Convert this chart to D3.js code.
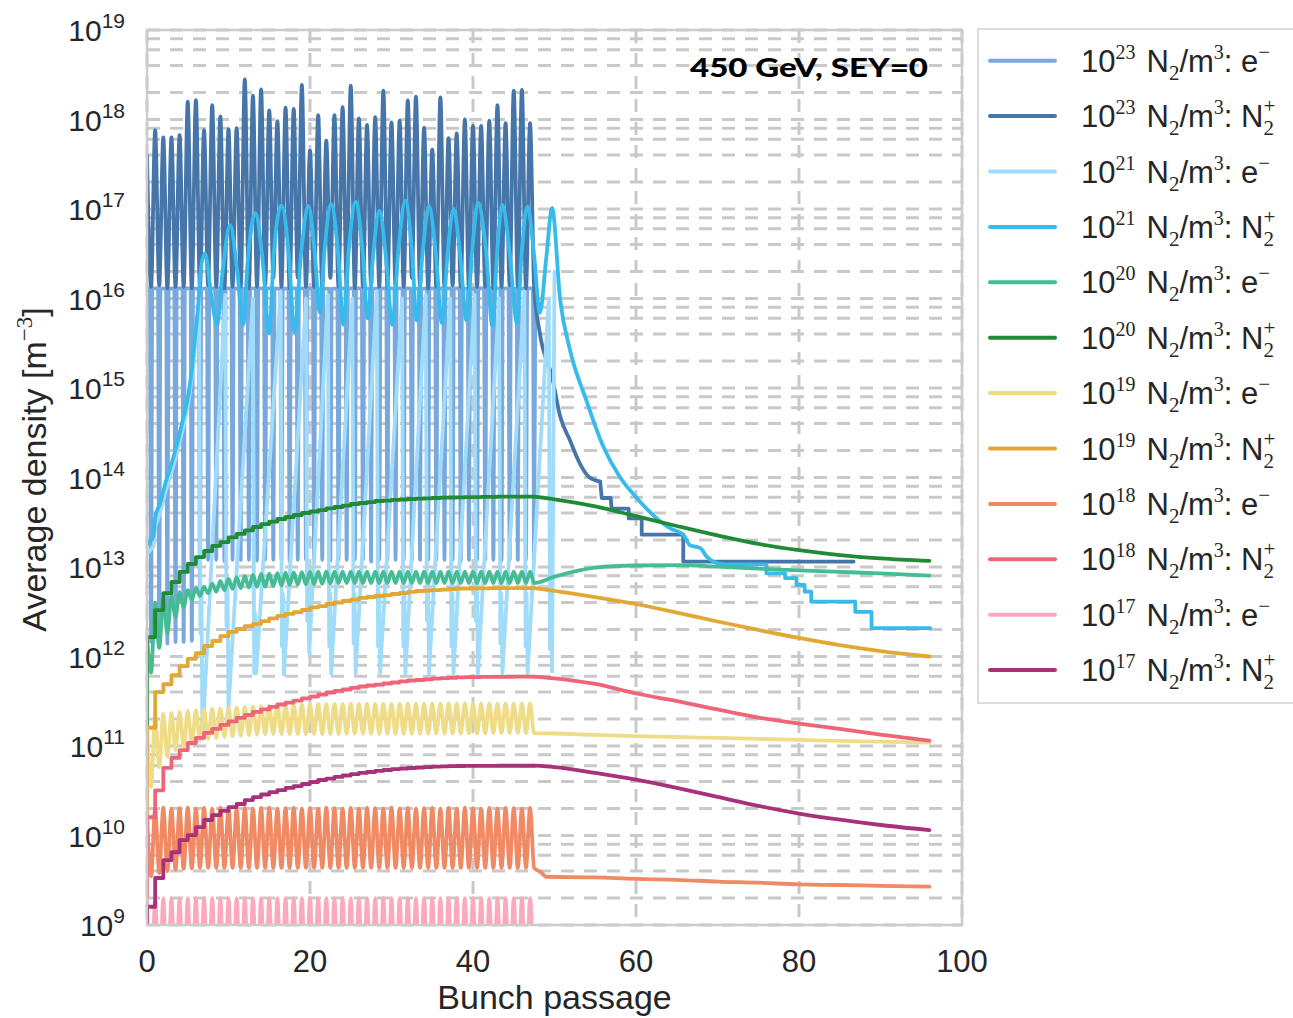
<!DOCTYPE html>
<html>
<head>
<meta charset="utf-8">
<script src="https://cdn.jsdelivr.net/npm/d3@7"></script>
<style>
  body { margin: 0; background: #ffffff; }
  svg { display: block; }
</style>
</head>
<body>
<svg id="chart" width="1293" height="1018"></svg>
<script>
// ---------------- data ----------------
// bunch passages of the train (one bunch per unit of x)
const bunchX = [0,1,2,3,4,5,6,7,8,9,10,11,12,13,14,15,16,17,18,19,20,21,22,23,
                24,25,26,27,28,29,30,31,32,33,34,35,36,37,38,39,40,41,42,43,44,45,46,47];
// sampling points of the decay after the train
const tailX = [47.5, 50, 55, 60, 65, 70, 75, 80, 85, 90, 96];

const xTicks = [0, 20, 40, 60, 80, 100];
const yMajor = [1e9, 1e10, 1e11, 1e12, 1e13, 1e14, 1e15, 1e16, 1e17, 1e18, 1e19];
const yMinorMult = [2, 4, 6, 8];

// 1e23 N2/m3 : e-  (plateau between bunches, dip at each passage)
const e23High = [1.3e16,1.3e16,1.28e16,1.3e16,1.3e16,1.3e16,1.28e16,1.3e16,1.3e16,1.3e16,1.3e16,1.28e16,
                 1.3e16,1.3e16,1.3e16,1.3e16,1.28e16,1.3e16,1.3e16,1.3e16,1.3e16,1.3e16,1.28e16,1.3e16,
                 1.3e16,1.3e16,1.3e16,1.28e16,1.3e16,1.3e16,1.3e16,1.3e16,1.3e16,1.28e16,1.3e16,1.3e16,
                 1.3e16,1.3e16,1.3e16,1.28e16,1.3e16,1.3e16,1.3e16,1.3e16,1.3e16,1.28e16,1.3e16,1.3e16];
const e23Low  = [1.46e12,1.46e12,1.4e12,1.45e12,1.46e12,1.5e12,5.0e12,1.2e13,1.2e13,1.15e13,1.2e13,1.2e13,
                 1.2e13,1.18e13,1.2e13,1.2e13,1.2e13,1.15e13,1.2e13,1.2e13,1.2e13,1.2e13,1.18e13,1.2e13,
                 1.2e13,1.2e13,1.2e13,1.15e13,1.2e13,1.2e13,1.2e13,1.2e13,1.18e13,1.2e13,1.2e13,1.2e13,
                 1.2e13,1.2e13,1.15e13,1.2e13,1.2e13,1.2e13,1.2e13,1.18e13,1.2e13,1.2e13,1.2e13,1.2e13];

// 1e23 N2/m3 : N2+
const n23Peak = [4.0e17,7.6e17,6.3e17,6.3e17,6.7e17,1.58e18,1.65e18,7.6e17,1.45e18,1.08e18,7.8e17,8.0e17,
                 2.8e18,1.85e18,2.17e18,1.26e18,9.6e17,1.36e18,1.31e18,2.43e18,4.5e17,1.12e18,5.8e17,1.12e18,
                 1.37e18,2.39e18,1.03e18,8.7e17,1.06e18,2.1e18,9.3e17,9.7e17,1.63e18,1.8e18,8.1e17,4.6e17,
                 1.77e18,6.2e17,7.0e17,1.0e18,8.5e17,8.5e17,9.7e17,1.45e18,9.1e17,2.1e18,2.14e18,9.1e17];
const n23Trough = [1.35e16,1.4e16,1.3e16,1.35e16,1.35e16,1.3e16,1.35e16,1.4e16,1.35e16,1.3e16,1.35e16,1.35e16,
                   1.3e16,1.35e16,1.4e16,1.7e16,1.35e16,1.3e16,1.7e16,1.35e16,1.35e16,1.3e16,1.7e16,1.35e16,
                   1.35e16,1.3e16,1.35e16,1.4e16,1.35e16,1.3e16,1.35e16,1.35e16,1.7e16,1.35e16,1.3e16,1.35e16,
                   1.35e16,1.4e16,1.35e16,1.3e16,1.35e16,1.35e16,1.3e16,1.35e16,1.4e16,1.35e16,1.3e16,1.35e16];
const n23Decay = [[48.2,4.1e15],[49.7,1.34e15],[50.7,4.8e14],[51.9,2.6e14],[53.1,1.44e14],[54.2,1.02e14],[55.6,9.0e13]];
const n23Steps = [[55.6,9.0e13],[55.8,5.9e13],[56.9,5.9e13],[57.0,4.5e13],[59.1,4.5e13],[59.1,3.5e13],
                  [60.7,3.5e13],[60.7,2.3e13],[65.8,2.3e13],[65.8,1.15e13],[86.7,1.15e13]];

// 1e21 N2/m3 : e-
const e21Rise = [[0,1.4e13],[0.8,1.7e13],[1.0,2.8e13],[1.6,4.0e13],[2.25,6.8e13],[2.9,1.05e14],
                 [3.7,1.9e14],[4.5,3.8e14],[5.1,7.0e14],[5.5,1.3e15],[5.9,3.0e15],[6.1,5.0e15]];
const e21DipX     = [6.8,10.0,13.4,16.8,19.9,22.6,25.6,28.6,31.7,34.6,37.6,40.6,43.6,46.7,49.7];
const e21Deep     = [1.2e11,2.7e11,6.5e11,6.3e11,1.1e12,6.4e11,6.5e11,6.5e11,6.4e11,6.5e11,6.5e11,6.3e11,6.5e11,6.5e11,6.8e11];
const e21Shallow  = [1.8e12,2.2e12,6.5e11,1.3e12,2.5e12,1.3e12,1.4e12,1.3e12,1.3e12,2.5e12,1.3e12,2.5e12,1.4e12,1.3e12,1.2e12];
const e21Rebound  = [6.0e12,7.0e12,3.0e12,5.0e12,8.0e12,5.0e12,5.0e12,5.0e12,5.0e12,8.0e12,5.0e12,8.0e12,5.0e12,5.0e12,5.0e12];
const e21Top      = [1.0e16,1.1e16,1.0e16,1.2e16,1.0e16,1.1e16,1.0e16,1.2e16,1.0e16,1.1e16,1.0e16,1.1e16,1.0e16,1.2e16,1.0e16];
const e21End      = [[50.0,2.0e16]];

// 1e21 N2/m3 : N2+
const n21Smooth = [[0,1.8e13],[0.8,2.2e13],[1.0,3.6e13],[1.6,5.1e13],[2.25,8.6e13],[2.9,1.32e14],[3.7,2.4e14],
  [4.5,4.8e14],[5.1,8.7e14],[5.5,1.6e15],[5.9,3.7e15],[6.3,8.8e15],[6.6,2.1e16],[7.1,3.2e16],[8.0,9.0e15],
  [8.6,5.1e15],[9.25,1.9e16],[10.2,6.6e16],[11.1,1.9e16],[11.8,5.1e15],[12.35,2.6e16],[13.3,9.0e16],[14.2,2.6e16],
  [15.0,4.1e15],[15.55,3.1e16],[16.5,1.1e17],[17.4,3.1e16],[18.1,4.2e15],[18.9,3.1e16],[19.8,1.08e17],[20.6,3.1e16],
  [21.2,7.0e15],[21.75,3.2e16],[22.6,1.13e17],[23.45,3.2e16],[24.1,5.1e15],[24.75,3.4e16],[25.6,1.2e17],[26.45,3.4e16],
  [27.1,6.0e15],[27.7,2.7e16],[28.5,9.6e16],[29.35,2.7e16],[30.1,5.1e15],[30.85,3.5e16],[31.7,1.24e17],[32.5,3.5e16],
  [33.1,5.7e15],[33.8,3.1e16],[34.6,1.08e17],[35.45,3.1e16],[36.2,5.3e15],[36.85,2.9e16],[37.6,1.0e17],[38.45,2.9e16],
  [39.2,5.7e15],[39.9,3.4e16],[40.6,1.18e17],[41.6,3.4e16],[42.4,4.9e15],[42.95,3.2e16],[43.6,1.11e17],[44.5,3.2e16],
  [45.4,5.3e15],[45.95,3.0e16],[46.7,1.06e17],[47.5,3.0e16],[48.2,6.9e15],[49.0,2.9e16],[49.7,1.03e17],[50.7,9.6e15],
  [51.9,2.66e15],[53.9,7.3e14],[56.0,2.2e14],[58.0,1.02e14],[60.1,5.9e13],[62.1,3.8e13],[64.2,2.7e13],[65.8,2.3e13],
  [66.6,1.76e13],[67.9,1.62e13],[68.7,1.3e13],[69.5,1.15e13],[70.7,1.07e13]];
const n21Steps = [[70.7,1.07e13],[76.0,1.07e13],[76.0,8.5e12],[78.3,8.5e12],[78.3,7.5e12],[79.7,7.5e12],
  [79.7,6.3e12],[80.7,6.3e12],[80.7,5.3e12],[81.5,5.3e12],[81.5,4.1e12],[86.9,4.1e12],[86.9,3.16e12],
  [88.9,3.16e12],[88.9,2.07e12],[96.1,2.07e12]];

// 1e20 N2/m3 : e-
const e20Peak = [1.65e12,4.0e12,4.45e12,4.8e12,5.25e12,5.5e12,5.8e12,6.0e12,6.5e12,7.0e12,7.35e12,7.7e12,
                 7.9e12,8.15e12,8.35e12,8.45e12,8.55e12,8.65e12,8.7e12,8.75e12,8.8e12,8.85e12,8.85e12,8.9e12,
                 8.9e12,8.9e12,8.9e12,8.9e12,8.9e12,8.9e12,8.9e12,8.9e12,8.9e12,8.9e12,8.9e12,8.9e12,
                 8.9e12,8.9e12,8.9e12,8.9e12,8.9e12,8.9e12,8.9e12,8.9e12,8.9e12,8.9e12,8.9e12,8.9e12];
const e20Trough = [6.6e11,1.25e12,1.8e12,2.75e12,3.55e12,4.3e12,4.75e12,5.1e12,5.3e12,5.5e12,5.7e12,5.8e12,
                   5.9e12,6.0e12,6.05e12,6.15e12,6.2e12,6.3e12,6.35e12,6.4e12,6.45e12,6.5e12,6.55e12,6.6e12,
                   6.6e12,6.6e12,6.6e12,6.6e12,6.6e12,6.6e12,6.6e12,6.6e12,6.6e12,6.6e12,6.6e12,6.6e12,
                   6.6e12,6.6e12,6.6e12,6.6e12,6.6e12,6.6e12,6.6e12,6.6e12,6.6e12,6.6e12,6.6e12,6.6e12];
const e20Tail = [6.6e12,7.8e12,9.85e12,1.04e13,1.05e13,1.01e13,9.6e12,9.15e12,8.8e12,8.5e12,8.0e12];

// 1e20 N2/m3 : N2+
const n20Start = 1.6e11;
const n20Step = [1.65e12,3.3e12,5.1e12,6.8e12,8.8e12,1.08e13,1.29e13,1.51e13,1.72e13,1.9e13,2.14e13,2.34e13,
                 2.56e13,2.8e13,3.02e13,3.22e13,3.44e13,3.62e13,3.81e13,4.01e13,4.17e13,4.33e13,4.51e13,4.68e13,
                 4.86e13,5.06e13,5.19e13,5.32e13,5.46e13,5.53e13,5.61e13,5.68e13,5.75e13,5.8e13,5.85e13,5.9e13,
                 5.95e13,5.98e13,6.0e13,6.03e13,6.05e13,6.08e13,6.08e13,6.1e13,6.1e13,6.1e13,6.1e13,6.1e13];
const n20Tail = [6.1e13,5.7e13,4.75e13,3.7e13,2.87e13,2.25e13,1.81e13,1.54e13,1.36e13,1.25e13,1.17e13];

// 1e19 N2/m3 : e-
const e19Peak = [1.6e11,2.16e11,2.28e11,2.34e11,2.4e11,2.46e11,2.52e11,2.56e11,2.59e11,2.63e11,2.66e11,2.7e11,
                 2.73e11,2.77e11,2.81e11,2.83e11,2.85e11,2.87e11,2.89e11,2.91e11,2.93e11,2.95e11,2.95e11,2.96e11,
                 2.96e11,2.97e11,2.97e11,2.97e11,2.98e11,2.98e11,2.98e11,2.98e11,2.99e11,2.99e11,2.99e11,2.99e11,
                 3.0e11,3.0e11,3.0e11,3.0e11,3.0e11,3.0e11,3.0e11,3.0e11,3.0e11,3.0e11,3.0e11,3.0e11];
const e19Trough = [3.5e10,5.8e10,7.5e10,9.0e10,9.75e10,1.05e11,1.14e11,1.2e11,1.23e11,1.26e11,1.29e11,1.3e11,
                   1.32e11,1.34e11,1.36e11,1.36e11,1.36e11,1.36e11,1.36e11,1.36e11,1.36e11,1.36e11,1.36e11,1.36e11,
                   1.37e11,1.37e11,1.37e11,1.37e11,1.37e11,1.37e11,1.37e11,1.37e11,1.37e11,1.37e11,1.38e11,1.38e11,
                   1.38e11,1.38e11,1.38e11,1.38e11,1.38e11,1.38e11,1.39e11,1.39e11,1.39e11,1.39e11,1.39e11,1.39e11];
const e19Tail = [1.39e11,1.38e11,1.33e11,1.29e11,1.26e11,1.23e11,1.2e11,1.17e11,1.14e11,1.12e11,1.09e11];

// 1e19 N2/m3 : N2+
const n19Start = 1.5e10;
const n19Step = [1.6e11,4.0e11,4.9e11,6.2e11,7.8e11,9.4e11,1.09e12,1.31e12,1.49e12,1.69e12,1.88e12,2.03e12,
                 2.19e12,2.31e12,2.49e12,2.66e12,2.84e12,2.99e12,3.14e12,3.31e12,3.53e12,3.66e12,3.86e12,4.01e12,
                 4.17e12,4.33e12,4.51e12,4.62e12,4.74e12,4.86e12,4.99e12,5.12e12,5.26e12,5.39e12,5.46e12,5.53e12,
                 5.6e12,5.68e12,5.75e12,5.75e12,5.78e12,5.78e12,5.8e12,5.8e12,5.82e12,5.82e12,5.82e12,5.82e12];
const n19Tail = [5.82e12,5.4e12,4.62e12,3.86e12,3.1e12,2.46e12,1.98e12,1.61e12,1.34e12,1.15e12,1.0e12];

// 1e18 N2/m3 : e-
const e18Peak = [1.7e10,2.0e10,2.05e10,2.0e10,2.02e10,2.05e10,2.0e10,2.03e10,2.0e10,2.05e10,2.02e10,2.0e10,
                 2.04e10,2.0e10,2.03e10,2.05e10,2.0e10,2.02e10,2.04e10,2.0e10,2.03e10,2.0e10,2.05e10,2.02e10,
                 2.0e10,2.04e10,2.0e10,2.03e10,2.02e10,2.0e10,2.05e10,2.0e10,2.03e10,2.0e10,2.02e10,2.04e10,
                 2.0e10,2.03e10,2.0e10,2.05e10,2.02e10,2.0e10,2.03e10,2.0e10,2.04e10,2.02e10,2.0e10,2.03e10];
const e18Trough = [3.5e9,3.8e9,4.0e9,4.15e9,4.25e9,4.3e9,4.35e9,4.35e9,4.35e9,4.35e9,4.35e9,4.35e9,
                   4.35e9,4.35e9,4.35e9,4.35e9,4.35e9,4.35e9,4.35e9,4.35e9,4.35e9,4.35e9,4.35e9,4.35e9,
                   4.35e9,4.35e9,4.35e9,4.35e9,4.35e9,4.35e9,4.35e9,4.35e9,4.35e9,4.35e9,4.35e9,4.35e9,
                   4.35e9,4.35e9,4.35e9,4.35e9,4.35e9,4.35e9,4.35e9,4.35e9,4.35e9,4.35e9,4.35e9,4.35e9];
const e18TailX = [48.3, 49.0, 55, 60, 65, 70, 75, 80, 85, 90, 96];
const e18Tail  = [3.9e9,3.46e9,3.4e9,3.27e9,3.2e9,3.05e9,2.97e9,2.84e9,2.8e9,2.74e9,2.68e9];

// 1e18 N2/m3 : N2+
const n18Start = 2.0e9;
const n18Step = [1.6e10,3.2e10,5.7e10,7.35e10,9.0e10,1.08e11,1.23e11,1.4e11,1.55e11,1.72e11,1.88e11,2.06e11,
                 2.22e11,2.4e11,2.56e11,2.73e11,2.91e11,3.06e11,3.22e11,3.4e11,3.57e11,3.76e11,3.96e11,4.12e11,
                 4.28e11,4.45e11,4.62e11,4.74e11,4.86e11,4.99e11,5.12e11,5.26e11,5.39e11,5.46e11,5.56e11,5.65e11,
                 5.72e11,5.78e11,5.83e11,5.87e11,5.89e11,5.91e11,5.92e11,5.93e11,5.94e11,5.95e11,5.96e11,5.97e11];
const n18Tail = [5.97e11,5.7e11,4.93e11,3.86e11,3.18e11,2.56e11,2.08e11,1.78e11,1.55e11,1.34e11,1.15e11];

// 1e17 N2/m3 : e-
const e17Peak = [1.95e9,2.0e9,2.0e9,2.0e9,2.0e9,2.0e9,2.0e9,2.0e9,2.0e9,2.0e9,2.0e9,2.0e9,
                 2.0e9,2.0e9,2.0e9,2.0e9,2.0e9,2.0e9,2.0e9,2.0e9,2.0e9,2.0e9,2.0e9,2.0e9,
                 2.0e9,2.0e9,2.0e9,2.0e9,2.0e9,2.0e9,2.0e9,2.0e9,2.0e9,2.0e9,2.0e9,2.0e9,
                 2.0e9,2.0e9,2.0e9,2.0e9,2.0e9,2.0e9,2.0e9,2.0e9,2.0e9,2.0e9,2.0e9,2.0e9];
const e17Trough = [1e8,1e8,1e8,1e8,1e8,1e8,1e8,1e8,1e8,1e8,1e8,1e8,1e8,1e8,1e8,1e8,1e8,1e8,1e8,1e8,1e8,1e8,1e8,1e8,
                   1e8,1e8,1e8,1e8,1e8,1e8,1e8,1e8,1e8,1e8,1e8,1e8,1e8,1e8,1e8,1e8,1e8,1e8,1e8,1e8,1e8,1e8,1e8,1e8];

// 1e17 N2/m3 : N2+
const n17Start = 3.0e8;
const n17Step = [1.6e9,3.35e9,5.3e9,6.5e9,8.9e9,1.01e10,1.24e10,1.49e10,1.69e10,1.88e10,2.08e10,2.25e10,
                 2.49e10,2.69e10,2.87e10,3.06e10,3.22e10,3.4e10,3.57e10,3.76e10,3.96e10,4.17e10,4.33e10,4.51e10,
                 4.68e10,4.86e10,5.0e10,5.12e10,5.26e10,5.39e10,5.53e10,5.6e10,5.68e10,5.75e10,5.82e10,5.87e10,
                 5.93e10,5.97e10,5.98e10,6.0e10,6.0e10,6.01e10,6.01e10,6.02e10,6.02e10,6.02e10,6.02e10,6.02e10];
const n17Tail = [6.02e10,5.82e10,5.0e10,4.2e10,3.4e10,2.7e10,2.14e10,1.76e10,1.5e10,1.31e10,1.15e10];

// legend entries
const gasDensityExp = ["23","23","21","21","20","20","19","19","18","18","17","17"];
const speciesIsIon  = [false,true,false,true,false,true,false,true,false,true,false,true];
const seriesColors  = ["#78a8dc","#4676a9","#a0dcfa","#36bbec","#46bc96","#218a35",
                       "#eedc88","#e1a835","#ef8a64","#ef6478","#fca8bd","#a7327a"];

// ---------------- layout ----------------
const SANS = "'Liberation Sans', Arial, Helvetica, sans-serif";
const SERIF = "'Liberation Serif', 'DejaVu Serif', serif";
const TEXT = "#262626";
const X0 = 147, X1 = 962, Y0 = 30, Y1 = 925;
const LW = 3.8;

const svg = d3.select("#chart");
const x = d3.scaleLinear().domain([0, 100]).range([X0, X1]);
const y = d3.scaleLog().domain([1e9, 1e19]).range([Y1, Y0]);

svg.append("rect").attr("width", 1293).attr("height", 1018).attr("fill", "#ffffff");

// grid
const grid = svg.append("g").attr("stroke", "#c9c9c9").attr("stroke-width", 3)
  .attr("stroke-dasharray", "13,10").attr("fill", "none");
const yGrid = yMajor.slice();
yMajor.slice(0, -1).forEach(d => yMinorMult.forEach(m => yGrid.push(d * m)));
grid.selectAll("line.gy").data(yGrid).join("line")
  .attr("x1", X0).attr("x2", X1).attr("y1", d => y(d)).attr("y2", d => y(d));
grid.selectAll("line.gx").data(xTicks).join("line")
  .attr("x1", d => x(d)).attr("x2", d => x(d)).attr("y1", Y0).attr("y2", Y1);

// clip
svg.append("defs").append("clipPath").attr("id", "plotClip")
  .append("rect").attr("x", X0).attr("y", Y0).attr("width", X1 - X0).attr("height", Y1 - Y0);
const plot = svg.append("g").attr("clip-path", "url(#plotClip)");

const linear = d3.line().x(d => x(d[0])).y(d => y(d[1]));
const smooth = d3.line().curve(d3.curveMonotoneX).x(d => x(d[0])).y(d => y(d[1]));

function extend(pts, more) {
  more.forEach(p => { if (p[0] > pts[pts.length - 1][0]) pts.push(p); });
  return pts;
}
function zip(xs, vs) { return xs.slice(0, Math.min(xs.length, vs.length)).map((v, i) => [v, vs[i]]); }

// per-bunch oscillation: maximum at the passage, minimum half a bunch later
function wave(peaks, troughs) {
  const pts = [], n = Math.min(bunchX.length, peaks.length, troughs.length);
  for (let i = 0; i < n; i++) {
    pts.push([bunchX[i], peaks[i]]);
    pts.push([bunchX[i] + 0.5, troughs[i]]);
  }
  return pts;
}
// plateau with a narrow dip between passages
function dipTrain(high, low) {
  const pts = [[0, high[0]]], n = Math.min(bunchX.length, high.length, low.length);
  for (let i = 0; i < n; i++) {
    const c = bunchX[i] + 0.5;
    pts.push([c - 0.15, high[i]], [c, low[i]], [c + 0.15, high[i]]);
  }
  return pts;
}
// ion build-up: one step per passage
function stairs(start, steps) {
  const pts = [[0, start]], n = Math.min(bunchX.length, steps.length);
  for (let i = 0; i < n; i++) {
    const next = i < n - 1 ? bunchX[i + 1] : bunchX[i] + 0.5;
    pts.push([bunchX[i], steps[i]], [next, steps[i]]);
  }
  return pts;
}
// sawtooth: sharp collapse at every third passage, then a log-linear recovery
function e21Path() {
  const pts = e21Rise.slice();
  e21DipX.forEach((p, k) => {
    pts.push([p - 0.4, e21Top[k]], [p - 0.25, e21Shallow[k]], [p - 0.12, e21Rebound[k]], [p, e21Deep[k]]);
  });
  e21End.forEach(p => pts.push(p));
  return pts;
}

function draw(d, color, curve) {
  plot.append("path").attr("d", (curve || smooth)(d)).attr("fill", "none")
    .attr("stroke", color).attr("stroke-width", LW)
    .attr("stroke-linejoin", "round").attr("stroke-linecap", "round");
}

// 1e23
draw(dipTrain(e23High, e23Low), seriesColors[0]);
draw(extend(wave(n23Peak, n23Trough), n23Decay), seriesColors[1]);
draw(n23Steps, seriesColors[1], linear);
// 1e21
draw(e21Path(), seriesColors[2], linear);
draw(n21Smooth, seriesColors[3]);
draw(n21Steps, seriesColors[3], linear);
// 1e20
draw(extend(wave(e20Peak, e20Trough), zip(tailX, e20Tail)), seriesColors[4]);
draw(stairs(n20Start, n20Step), seriesColors[5], linear);
draw(zip(tailX, n20Tail), seriesColors[5]);
// 1e19
draw(extend(wave(e19Peak, e19Trough), zip(tailX, e19Tail)), seriesColors[6]);
draw(stairs(n19Start, n19Step), seriesColors[7], linear);
draw(zip(tailX, n19Tail), seriesColors[7]);
// 1e18
draw(extend(wave(e18Peak, e18Trough), zip(e18TailX, e18Tail)), seriesColors[8]);
draw(stairs(n18Start, n18Step), seriesColors[9], linear);
draw(zip(tailX, n18Tail), seriesColors[9]);
// 1e17
draw(wave(e17Peak, e17Trough), seriesColors[10]);
draw(stairs(n17Start, n17Step), seriesColors[11], linear);
draw(zip(tailX, n17Tail), seriesColors[11]);

// frame
svg.append("rect").attr("x", X0).attr("y", Y0).attr("width", X1 - X0).attr("height", Y1 - Y0)
  .attr("fill", "none").attr("stroke", "#cccccc").attr("stroke-width", 2.5);

// x tick labels
svg.append("g").selectAll("text").data(xTicks).join("text")
  .attr("x", d => x(d)).attr("y", 972).attr("text-anchor", "middle")
  .attr("font-family", SANS).attr("font-size", 31).attr("fill", TEXT).text(d => d);

// y tick labels 10^n
const yt = svg.append("g").selectAll("text").data(yMajor).join("text")
  .attr("x", 125).attr("y", d => y(d) + 11).attr("text-anchor", "end")
  .attr("font-family", SANS).attr("font-size", 30).attr("fill", TEXT);
yt.append("tspan").text("10");
yt.append("tspan").attr("font-size", 21).attr("dy", -13).text(d => Math.round(Math.log10(d)));

// axis titles
svg.append("text").attr("x", (X0 + X1) / 2).attr("y", 1009).attr("text-anchor", "middle")
  .attr("font-family", SANS).attr("font-size", 34).attr("fill", TEXT).text("Bunch passage");
const yl = svg.append("text").attr("transform", `translate(46,${(Y0 + Y1) / 2 - 8}) rotate(-90)`)
  .attr("text-anchor", "middle").attr("font-family", SANS).attr("font-size", 34).attr("fill", TEXT);
yl.append("tspan").text("Average density [m");
yl.append("tspan").attr("font-family", SERIF).attr("font-size", 23).attr("dy", -14).text("\u22123");
yl.append("tspan").attr("dy", 14).text("]");

// energy / SEY note
svg.append("text").attr("x", 690).attr("y", 77)
  .attr("font-family", "Lato, 'Open Sans', sans-serif").attr("font-weight", 900)
  .attr("font-size", 26).attr("textLength", 238).attr("lengthAdjust", "spacingAndGlyphs")
  .attr("fill", "#000000").text("450 GeV, SEY=0");

// legend
const lg = svg.append("g");
lg.append("rect").attr("x", 978).attr("y", 29).attr("width", 340).attr("height", 674)
  .attr("fill", "#ffffff").attr("stroke", "#d4d4d4").attr("stroke-width", 1.6);
gasDensityExp.forEach((e, k) => {
  const ry = 60.7 + 55.4 * k;
  lg.append("line").attr("x1", 990).attr("x2", 1055).attr("y1", ry).attr("y2", ry)
    .attr("stroke", seriesColors[k]).attr("stroke-width", 4).attr("stroke-linecap", "round");
  const t = lg.append("text").attr("x", 1081).attr("y", ry + 11)
    .attr("font-family", SANS).attr("font-size", 31).attr("fill", TEXT);
  t.append("tspan").text("10");
  t.append("tspan").attr("font-family", SERIF).attr("font-size", 20).attr("dy", -13).text(e);
  t.append("tspan").attr("dx", 11).attr("dy", 13).text("N");
  t.append("tspan").attr("font-family", SERIF).attr("font-size", 21).attr("dy", 8).text("2");
  t.append("tspan").attr("dy", -8).text("/m");
  t.append("tspan").attr("font-family", SERIF).attr("font-size", 20).attr("dy", -13).text("3");
  t.append("tspan").attr("dy", 13).text(": " + (speciesIsIon[k] ? "N" : "e"));
  if (speciesIsIon[k]) {
    t.append("tspan").attr("font-family", SERIF).attr("font-size", 21).attr("dy", 8).text("2");
    t.append("tspan").attr("font-family", SERIF).attr("font-size", 21).attr("dx", -10.5).attr("dy", -22).text("+");
  } else {
    t.append("tspan").attr("font-family", SERIF).attr("font-size", 21).attr("dy", -13).text("\u2212");
  }
});
</script>
</body>
</html>
